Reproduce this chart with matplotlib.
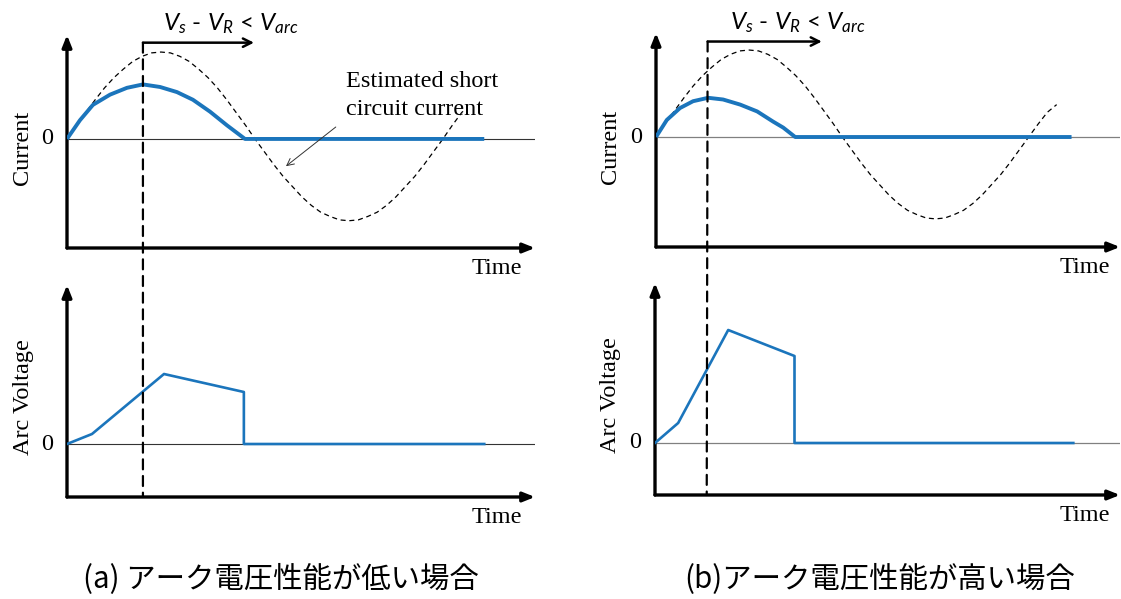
import matplotlib
matplotlib.use('Agg')
import matplotlib.pyplot as plt
from matplotlib.patches import ConnectionPatch

# ---------------- data (time in ms, current in p.u., arc voltage in a.u.) ----------------
# estimated short-circuit current
t_est_a = [0, 0.5, 1, 1.5, 2, 2.5, 3, 3.5, 4, 4.5, 5, 5.5, 6, 6.5, 7, 7.5, 8, 8.5, 9, 9.5, 10,
           10.5, 11, 11.5, 12, 12.5, 13, 13.5, 14, 14.5, 15, 15.5, 16, 16.5, 17, 17.5, 18, 18.5,
           19, 19.5, 20, 20.5, 21, 21.2]
i_est_a = [0, 0.16, 0.31, 0.46, 0.60, 0.72, 0.82, 0.91, 0.97, 1.01, 1.02, 1.01, 0.97, 0.91, 0.82,
           0.72, 0.60, 0.46, 0.31, 0.16, 0, -0.15, -0.30, -0.44, -0.56, -0.68, -0.78, -0.86, -0.91,
           -0.95, -0.96, -0.95, -0.91, -0.86, -0.78, -0.68, -0.56, -0.44, -0.30, -0.15, 0, 0.16,
           0.31, 0.35]
t_est_b = [0, 0.5, 1, 1.5, 2, 2.5, 3, 3.5, 4, 4.5, 5, 5.5, 6, 6.5, 7, 7.5, 8, 8.5, 9, 9.5, 10,
           10.5, 11, 11.5, 12, 12.5, 13, 13.5, 14, 14.5, 15, 15.5, 16, 16.5, 17, 17.5, 18, 18.5,
           19, 19.5, 20, 20.5, 21, 21.5]
i_est_b = [0, 0.16, 0.31, 0.46, 0.60, 0.72, 0.82, 0.91, 0.97, 1.01, 1.02, 1.01, 0.97, 0.91, 0.82,
           0.72, 0.60, 0.46, 0.31, 0.16, 0, -0.15, -0.30, -0.44, -0.56, -0.68, -0.78, -0.86, -0.91,
           -0.95, -0.96, -0.95, -0.91, -0.86, -0.78, -0.68, -0.56, -0.44, -0.30, -0.15, 0, 0.15,
           0.29, 0.38]

# (a) low arc-voltage performance
t_cur_a = [0, 0.69, 1.38, 2.29, 3.19, 4.04, 4.95, 5.85, 6.70, 7.61, 8.51, 9.47, 22.2]
i_cur_a = [0, 0.22, 0.40, 0.52, 0.60, 0.64, 0.61, 0.55, 0.46, 0.32, 0.16, 0, 0]
t_arc_a = [0, 1.33, 5.16, 9.41, 9.41, 22.2]
v_arc_a = [0, 0.10, 0.70, 0.52, 0, 0]
t_cross_a = 4.04
t_arrow_end_a = 9.95

# (b) high arc-voltage performance
t_cur_b = [0, 0.58, 1.29, 1.99, 2.80, 3.60, 4.52, 5.43, 6.29, 6.83, 7.47, 22.3]
i_cur_b = [0, 0.20, 0.34, 0.42, 0.46, 0.44, 0.38, 0.30, 0.18, 0.11, 0, 0]
t_arc_b = [0, 1.24, 3.92, 7.47, 7.47, 22.4]
v_arc_b = [0, 0.20, 1.13, 0.87, 0, 0]
t_cross_b = 2.77
t_arrow_end_b = 8.9

# texts
cond_label = r'$V_s$ - $V_R$ < $V_{arc}$'
est_label_1 = 'Estimated short'
est_label_2 = 'circuit current'
y_label_top = 'Current'
y_label_bot = 'Arc Voltage'
x_label = 'Time'
zero_label = '0'
caption_a = '(a) アーク電圧性能が低い場合'
caption_b = '(b)アーク電圧性能が高い場合'

# ---------------- style ----------------
plt.rcParams['mathtext.fontset'] = 'custom'
plt.rcParams['mathtext.it'] = 'Lato:italic'
plt.rcParams['mathtext.rm'] = 'Lato'
BLUE = '#1B75BC'
SERIF = 'Liberation Serif'
FS = 17.5

fig = plt.figure(figsize=(11.21, 5.99), dpi=100)

W, H = 1121.0, 599.0
def add_ax(left, right, bottom, top):
    return fig.add_axes([left / W, 1 - bottom / H, (right - left) / W, (bottom - top) / H])

ax_ta = add_ax(67, 535, 248, 35)
ax_ba = add_ax(67, 535, 497, 285)
ax_tb = add_ax(656, 1120, 247, 33)
ax_bb = add_ax(655, 1120, 495, 283)

XMAX = 24.9
ax_ta.set_ylim(-1.28, 1.22)
ax_tb.set_ylim(-1.29, 1.22)
ax_ba.set_ylim(-0.53, 1.59)
ax_bb.set_ylim(-0.52, 1.60)

for ax in (ax_ta, ax_ba, ax_tb, ax_bb):
    ax.set_xlim(0, XMAX)
    for s in ax.spines.values():
        s.set_visible(False)
    ax.set_xticks([])
    ax.set_yticks([])
    ax.patch.set_alpha(0)
    arrowkw = dict(arrowstyle='-|>,head_length=0.7,head_width=0.28', lw=2.4, color='black',
                   shrinkA=0, shrinkB=0)
    ax.annotate('', xy=(0, 1), xytext=(0, 0), xycoords='axes fraction', arrowprops=arrowkw,
                annotation_clip=False)
    ax.annotate('', xy=(1, 0), xytext=(0, 0), xycoords='axes fraction', arrowprops=arrowkw,
                annotation_clip=False)
    ax.text(-0.042, 0, zero_label, transform=ax.get_yaxis_transform(), ha='center', va='center',
            fontsize=FS, family=SERIF)

ax_ta.axhline(0, color='#333333', lw=0.8, zorder=1)
ax_ba.axhline(0, color='#333333', lw=0.8, zorder=1)
ax_tb.axhline(0, color='#808080', lw=0.9, zorder=1)
ax_bb.axhline(0, color='#808080', lw=0.9, zorder=1)

# estimated short-circuit current
for ax, t, i in ((ax_ta, t_est_a, i_est_a), (ax_tb, t_est_b, i_est_b)):
    ax.plot(t, i, color='black', lw=0.9, ls=(0, (4, 3)), zorder=2, clip_on=False)

# actual current
ax_ta.plot(t_cur_a, i_cur_a, color=BLUE, lw=2.8, zorder=3, solid_capstyle='butt',
           solid_joinstyle='round')
ax_tb.plot(t_cur_b, i_cur_b, color=BLUE, lw=2.8, zorder=3, solid_capstyle='butt',
           solid_joinstyle='round')

# arc voltage
ax_ba.plot(t_arc_a, v_arc_a, color=BLUE, lw=1.9, zorder=3)
ax_bb.plot(t_arc_b, v_arc_b, color=BLUE, lw=1.9, zorder=3)

# labels
for ax, xl in ((ax_ta, -0.095), (ax_tb, -0.099)):
    ax.text(xl, 0.47, y_label_top, transform=ax.transAxes, rotation=90, ha='center', va='center',
            fontsize=FS, family=SERIF)
for ax, xl in ((ax_ba, -0.094), (ax_bb, -0.095)):
    ax.text(xl, 0.47, y_label_bot, transform=ax.transAxes, rotation=90, ha='center', va='center',
            fontsize=FS, family=SERIF)
for ax, xf in ((ax_ta, 0.919), (ax_ba, 0.919), (ax_tb, 0.925), (ax_bb, 0.925)):
    ax.text(xf, -0.095, x_label, transform=ax.transAxes, ha='center', va='center',
            fontsize=FS, family=SERIF)

# condition arrow + dashed vertical line
for ax_t, ax_b, tc, te, ytop, ybot, tx in ((ax_ta, ax_ba, t_cross_a, t_arrow_end_a, 1.13, -0.53, 8.7),
                                             (ax_tb, ax_bb, t_cross_b, t_arrow_end_b, 1.12, -0.52, 7.6)):
    ax_t.annotate('', xy=(te, ytop), xytext=(tc, ytop), xycoords='data',
                  arrowprops=dict(arrowstyle='->,head_length=0.6,head_width=0.3', lw=1.8,
                                  color='black', shrinkA=0, shrinkB=0), annotation_clip=False)
    con = ConnectionPatch(xyA=(tc, ytop), coordsA=ax_t.transData, xyB=(tc, ybot),
                          coordsB=ax_b.transData, color='black', lw=1.6, ls=(0, (4.5, 3)))
    fig.add_artist(con)
    ax_t.text(tx, ytop + 0.22, cond_label, ha='center', va='center', fontsize=17.5,
              family='Lato', clip_on=False)

# estimated current annotation (a)
ax_ta.text(14.84, 0.68, est_label_1, ha='left', va='center', fontsize=FS, family=SERIF)
ax_ta.text(14.84, 0.34, est_label_2, ha='left', va='center', fontsize=FS, family=SERIF)
ax_ta.annotate('', xy=(11.65, -0.32), xytext=(14.3, 0.14),
               arrowprops=dict(arrowstyle='->,head_length=0.5,head_width=0.25', lw=0.7,
                               color='#333333', shrinkA=0, shrinkB=0))

# captions
cjk = ['Noto Sans CJK JP', 'DejaVu Sans']
fig.text(281 / W, 1 - 580 / H, caption_a, ha='center', va='center', fontsize=21.2, family=cjk)
fig.text(880 / W, 1 - 580 / H, caption_b, ha='center', va='center', fontsize=21.2, family=cjk)

fig.savefig('out.png', dpi=100)
